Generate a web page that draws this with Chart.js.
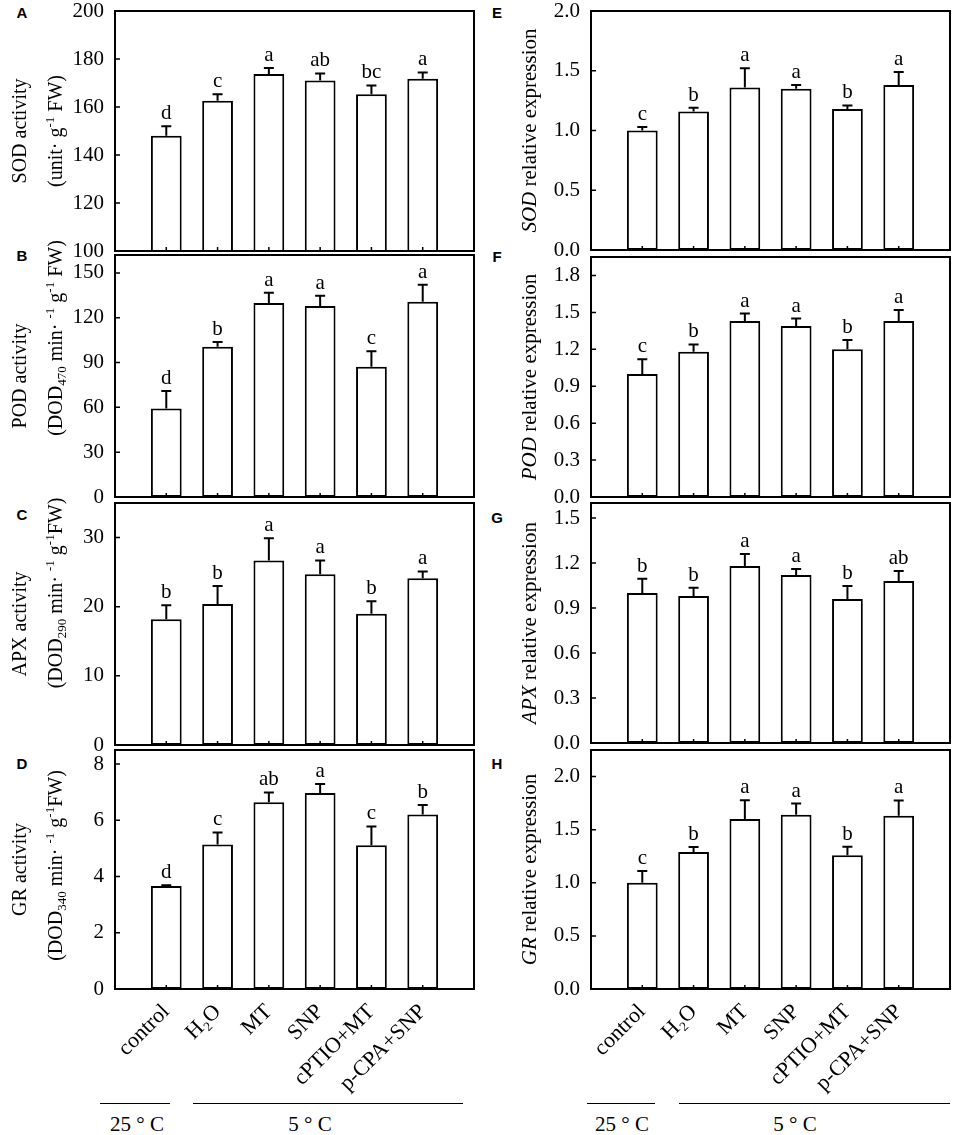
<!DOCTYPE html>
<html>

<head>
    <title>Antioxidant enzyme activity and gene expression</title>
    <script src="https://cdn.jsdelivr.net/npm/chart.js"></script>
    <style>
        body {
            margin: 0;
            background: #fff;
        }

        #figure {
            position: relative;
            width: 957px;
            height: 1135px;
            overflow: hidden;
            font-family: "Liberation Serif", "Times New Roman", serif;
        }

        #figure canvas {
            position: absolute;
        }

        .tag {
            position: absolute;
            font: bold 15px "Liberation Sans", Arial, sans-serif;
            transform: translate(-50%, -50%);
        }

        .temp {
            position: absolute;
            font-size: 21px;
            white-space: nowrap;
            transform: translate(-50%, -50%);
        }

        .rule {
            position: absolute;
            height: 0;
            border-top: 1px solid #000;
        }
    </style>
</head>

<body>
    <div id="figure">
        <div class="tag" style="left:22px;top:12px">A</div>
        <div class="tag" style="left:22px;top:255px">B</div>
        <div class="tag" style="left:22px;top:514px">C</div>
        <div class="tag" style="left:22px;top:763px">D</div>
        <div class="tag" style="left:497px;top:12px">E</div>
        <div class="tag" style="left:497px;top:256px">F</div>
        <div class="tag" style="left:497px;top:517px">G</div>
        <div class="tag" style="left:497px;top:763px">H</div>

        <div class="rule" style="left:100px;top:1103px;width:70px"></div>
        <div class="rule" style="left:193px;top:1103px;width:270px"></div>
        <div class="temp" style="left:137px;top:1124px">25 ° C</div>
        <div class="temp" style="left:310px;top:1124px">5 ° C</div>

        <div class="rule" style="left:587px;top:1103px;width:68px"></div>
        <div class="rule" style="left:679px;top:1103px;width:271px"></div>
        <div class="temp" style="left:622px;top:1124px">25 ° C</div>
        <div class="temp" style="left:795px;top:1124px">5 ° C</div>
    </div>

    <script>
        const SERIF = '"Liberation Serif", "Times New Roman", serif';
        Chart.defaults.font.family = SERIF;
        Chart.defaults.color = '#000';

        const treatments = ['control', 'H₂O', 'MT', 'SNP', 'cPTIO+MT', 'p-CPA+SNP'];

        // A - SOD activity
        const sodAct = [148, 162.6, 173.8, 171, 165.3, 171.8];
        const sodActErr = [4, 2.7, 2.5, 3, 3.7, 2.6];
        const sodActLetters = ['d', 'c', 'a', 'ab', 'bc', 'a'];
        const sodActTicks = [100, 120, 140, 160, 180, 200];

        // B - POD activity
        const podAct = [59.3, 100.5, 129.8, 127.8, 87.2, 130.7];
        const podActErr = [11.6, 3.3, 7, 7, 10.4, 11.4];
        const podActLetters = ['d', 'b', 'a', 'a', 'c', 'a'];
        const podActTicks = [0, 30, 60, 90, 120, 150];

        // C - APX activity
        const apxAct = [18.2, 20.4, 26.7, 24.7, 19.0, 24.1];
        const apxActErr = [2, 2.6, 3.2, 2, 1.8, 1];
        const apxActLetters = ['b', 'b', 'a', 'a', 'b', 'a'];
        const apxActTicks = [0, 10, 20, 30];

        // D - GR activity
        const grAct = [3.66, 5.14, 6.64, 6.97, 5.11, 6.21];
        const grActErr = [0.03, 0.43, 0.35, 0.32, 0.67, 0.33];
        const grActLetters = ['d', 'c', 'ab', 'a', 'c', 'b'];
        const grActTicks = [0, 2, 4, 6, 8];

        // E - SOD relative expression
        const sodExp = [1.0, 1.16, 1.36, 1.35, 1.18, 1.38];
        const sodExpErr = [0.03, 0.03, 0.16, 0.03, 0.03, 0.11];
        const sodExpLetters = ['c', 'b', 'a', 'a', 'b', 'a'];
        const sodExpTicks = [0, 0.5, 1, 1.5, 2];

        // F - POD relative expression
        const podExp = [1.0, 1.18, 1.43, 1.39, 1.2, 1.43];
        const podExpErr = [0.12, 0.06, 0.06, 0.06, 0.075, 0.09];
        const podExpLetters = ['c', 'b', 'a', 'a', 'b', 'a'];
        const podExpTicks = [0, 0.3, 0.6, 0.9, 1.2, 1.5, 1.8];

        // G - APX relative expression
        const apxExp = [1.0, 0.98, 1.18, 1.12, 0.96, 1.08];
        const apxExpErr = [0.095, 0.055, 0.08, 0.04, 0.087, 0.067];
        const apxExpLetters = ['b', 'b', 'a', 'a', 'b', 'ab'];
        const apxExpTicks = [0, 0.3, 0.6, 0.9, 1.2, 1.5];

        // H - GR relative expression
        const grExp = [1.0, 1.29, 1.6, 1.64, 1.26, 1.63];
        const grExpErr = [0.11, 0.047, 0.176, 0.106, 0.078, 0.145];
        const grExpLetters = ['c', 'b', 'a', 'a', 'b', 'a'];
        const grExpTicks = [0, 0.5, 1, 1.5, 2];

        // column geometry
        const cols = [
            { left: 0, width: 477, yw: 115, padRight: 3, titleX: [26, 62], titleSize: 20 },
            { left: 477, width: 480, yw: 114, padRight: 7, titleX: [59], titleSize: 21 }
        ];
        const PAD_TOP = 24;

        const activity = (name) => [{ t: name + ' activity' }];
        const dodUnit = (wl, gap) => [{ t: '(DOD' }, { t: wl, sub: true }, { t: ' min· ' }, { t: '-1', sup: true },
            { t: ' g' }, { t: '-1', sup: true }, { t: gap + 'FW)' }];
        const expression = (gene) => [[{ t: gene, i: true }, { t: ' relative expression' }]];

        const panels = [
            { col: 0, top: 11, bottom: 251, last: false, values: sodAct, errors: sodActErr, letters: sodActLetters, ticks: sodActTicks,
              min: 100, max: 200, dec: 0, title: [activity('SOD'), [{ t: '(unit· g' }, { t: '-1', sup: true }, { t: ' FW)' }]], shift: [0, 0] },
            { col: 0, top: 255, bottom: 497, last: false, values: podAct, errors: podActErr, letters: podActLetters, ticks: podActTicks,
              min: 0, max: 162, dec: 0, title: [activity('POD'), dodUnit('470', ' ')], shift: [0, -38] },
            { col: 0, top: 503, bottom: 745, last: false, values: apxAct, errors: apxActErr, letters: apxActLetters, ticks: apxActTicks,
              min: 0, max: 35, dec: 0, title: [activity('APX'), dodUnit('290', '')], shift: [0, -31] },
            { col: 0, top: 750, bottom: 989, last: true, values: grAct, errors: grActErr, letters: grActLetters, ticks: grActTicks,
              min: 0, max: 8.5, dec: 0, title: [activity('GR'), dodUnit('340', '')], shift: [0, -4] },
            { col: 1, top: 11, bottom: 250, last: false, values: sodExp, errors: sodExpErr, letters: sodExpLetters, ticks: sodExpTicks,
              min: 0, max: 2, dec: 1, title: expression('SOD'), shift: [0] },
            { col: 1, top: 257, bottom: 497, last: false, values: podExp, errors: podExpErr, letters: podExpLetters, ticks: podExpTicks,
              min: 0, max: 1.95, dec: 1, title: expression('POD'), shift: [0] },
            { col: 1, top: 503, bottom: 743, last: false, values: apxExp, errors: apxExpErr, letters: apxExpLetters, ticks: apxExpTicks,
              min: 0, max: 1.6, dec: 1, title: expression('APX'), shift: [0] },
            { col: 1, top: 750, bottom: 989, last: true, values: grExp, errors: grExpErr, letters: grExpLetters, ticks: grExpTicks,
              min: 0, max: 2.25, dec: 1, title: expression('GR'), shift: [0] }
        ];

        // rotated title line made of normal / italic / sub / sup pieces
        function drawRich(ctx, segs, baseX, centerY, size) {
            const fontOf = (s) => (s.i ? 'italic ' : '') + ((s.sub || s.sup) ? Math.round(size * 0.65) : size) + 'px ' + SERIF;
            let total = 0;
            const widths = segs.map((s) => {
                ctx.font = fontOf(s);
                const w = ctx.measureText(s.t).width;
                total += w;
                return w;
            });
            ctx.save();
            ctx.translate(baseX, centerY);
            ctx.rotate(-Math.PI / 2);
            ctx.textAlign = 'left';
            ctx.textBaseline = 'alphabetic';
            let pos = -total / 2;
            segs.forEach((s, k) => {
                ctx.font = fontOf(s);
                let dy = 0;
                if (s.sup) dy = -size * 0.42;
                if (s.sub) dy = size * 0.22;
                ctx.fillText(s.t, pos, dy);
                pos += widths[k];
            });
            ctx.restore();
        }

        function decor(p, col) {
            return {
                id: 'decor',
                afterDatasetsDraw(chart) {
                    const { ctx, scales: { x, y } } = chart;
                    ctx.save();
                    ctx.strokeStyle = '#000';
                    ctx.fillStyle = '#000';
                    ctx.lineWidth = 2;
                    ctx.font = '21px ' + SERIF;
                    ctx.textAlign = 'center';
                    ctx.textBaseline = 'alphabetic';
                    p.values.forEach((v, i) => {
                        const px = x.getPixelForValue(i + 1);
                        const top = y.getPixelForValue(v);
                        const end = y.getPixelForValue(v + p.errors[i]);
                        ctx.beginPath();
                        ctx.moveTo(px, top);
                        ctx.lineTo(px, end);
                        ctx.moveTo(px - 5, end);
                        ctx.lineTo(px + 5, end);
                        ctx.stroke();
                        ctx.fillText(p.letters[i], px, end - 7);
                    });
                    ctx.restore();
                },
                afterDraw(chart) {
                    const { ctx, chartArea: a, scales: { x, y } } = chart;
                    ctx.save();
                    ctx.strokeStyle = '#000';
                    ctx.fillStyle = '#000';
                    ctx.lineWidth = 2;
                    ctx.strokeRect(a.left, a.top, a.right - a.left, a.bottom - a.top);
                    ctx.beginPath();
                    y.ticks.forEach((t) => {
                        const py = y.getPixelForValue(t.value);
                        ctx.moveTo(a.left, py);
                        ctx.lineTo(a.left + 5, py);
                    });
                    x.ticks.forEach((t) => {
                        const px = x.getPixelForValue(t.value);
                        ctx.moveTo(px, a.bottom);
                        ctx.lineTo(px, a.bottom - 4);
                    });
                    ctx.lineWidth = 1.5;
                    ctx.stroke();
                    const midY = (a.top + a.bottom) / 2;
                    p.title.forEach((line, k) => {
                        drawRich(ctx, line, col.titleX[k], midY + p.shift[k], col.titleSize);
                    });
                    ctx.restore();
                }
            };
        }

        const figure = document.getElementById('figure');

        panels.forEach((p) => {
            const col = cols[p.col];
            const xb = p.last ? 1135 - p.bottom : 24;
            const canvas = document.createElement('canvas');
            canvas.width = col.width;
            canvas.height = (p.bottom - p.top) + PAD_TOP + xb;
            canvas.style.left = col.left + 'px';
            canvas.style.top = (p.top - PAD_TOP) + 'px';
            figure.appendChild(canvas);

            new Chart(canvas, {
                type: 'bar',
                data: {
                    datasets: [{
                        data: p.values.map((v, i) => ({ x: i + 1, y: v })),
                        backgroundColor: '#fff',
                        borderColor: '#000',
                        borderWidth: 2,
                        borderSkipped: false,
                        barPercentage: 0.6,
                        categoryPercentage: 1
                    }]
                },
                options: {
                    responsive: false,
                    animation: false,
                    events: [],
                    layout: { padding: { top: PAD_TOP, right: col.padRight, left: 0, bottom: 0 } },
                    plugins: {
                        legend: { display: false },
                        tooltip: { enabled: false }
                    },
                    scales: {
                        x: {
                            type: 'linear',
                            min: 0,
                            max: 7,
                            offset: false,
                            grid: { display: false, drawTicks: false, offset: false },
                            border: { display: false },
                            afterBuildTicks: (s) => { s.ticks = treatments.map((_, i) => ({ value: i + 1 })); },
                            afterFit: (s) => { s.height = xb; },
                            ticks: {
                                display: p.last,
                                autoSkip: false,
                                minRotation: 45,
                                maxRotation: 45,
                                padding: 10,
                                color: '#000',
                                font: { family: SERIF, size: 22 },
                                callback: (v) => treatments[v - 1]
                            }
                        },
                        y: {
                            type: 'linear',
                            min: p.min,
                            max: p.max,
                            grid: { display: false, drawTicks: false },
                            border: { display: false },
                            afterBuildTicks: (s) => { s.ticks = p.ticks.map((v) => ({ value: v })); },
                            afterFit: (s) => { s.width = col.yw; },
                            ticks: {
                                padding: 11,
                                color: '#000',
                                font: { family: SERIF, size: 21, lineHeight: 1 },
                                callback: (v) => Number(v).toFixed(p.dec)
                            }
                        }
                    }
                },
                plugins: [decor(p, col)]
            });
        });
    </script>
</body>

</html>
